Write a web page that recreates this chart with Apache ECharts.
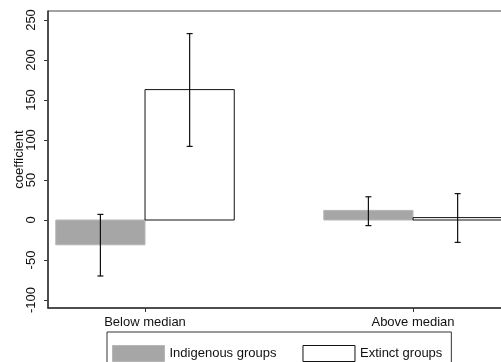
<!DOCTYPE html>
<html>
<head>
<meta charset="utf-8">
<script src="https://cdn.jsdelivr.net/npm/echarts@6/dist/echarts.min.js"></script>
<style>
html,body{margin:0;padding:0;background:#fff;}
#chart{width:501px;height:362px;}
</style>
</head>
<body>
<div id="chart"></div>
<script>
const categories = ['Below median', 'Above median'];
const seriesNames = ['Indigenous groups', 'Extinct groups'];
const indigenous = [-31, 12];
const indigenousLow = [-70, -7];
const indigenousHigh = [7, 29];
const extinct = [163, 3];
const extinctLow = [92, -28];
const extinctHigh = [233, 33];
const yTicks = [-100, -50, 0, 50, 100, 150, 200, 250];

const BAR_W = 0.333;
const FONT = 'Liberation Sans, Arial, sans-serif';

function barSeries(name, values, side, fill, stroke) {
  return {
    name: name,
    type: 'custom',
    data: values.map((v, i) => [i + 1, v]),
    renderItem: function (params, api) {
      const x = api.value(0), v = api.value(1);
      const a = side < 0 ? x - BAR_W : x;
      const b = side < 0 ? x : x + BAR_W;
      const p0 = api.coord([a, 0]);
      const p1 = api.coord([b, v]);
      return {
        type: 'rect',
        shape: { x: p0[0], y: Math.min(p0[1], p1[1]), width: p1[0] - p0[0], height: Math.abs(p1[1] - p0[1]) },
        style: { fill: fill, stroke: stroke, lineWidth: 1 }
      };
    },
    z: 2
  };
}

function errSeries(name, lows, highs, side) {
  return {
    name: name + ' CI',
    type: 'custom',
    data: lows.map((l, i) => [i + 1, l, highs[i]]),
    renderItem: function (params, api) {
      const x = api.value(0) + side * BAR_W / 2;
      const lo = api.coord([x, api.value(1)]);
      const hi = api.coord([x, api.value(2)]);
      const cap = 3;
      const st = { stroke: '#111', lineWidth: 1.2 };
      return {
        type: 'group',
        children: [
          { type: 'line', shape: { x1: lo[0], y1: lo[1], x2: hi[0], y2: hi[1] }, style: st },
          { type: 'line', shape: { x1: lo[0] - cap, y1: lo[1], x2: lo[0] + cap, y2: lo[1] }, style: st },
          { type: 'line', shape: { x1: hi[0] - cap, y1: hi[1], x2: hi[0] + cap, y2: hi[1] }, style: st }
        ]
      };
    },
    z: 3
  };
}

const chart = echarts.init(document.getElementById('chart'), null, { renderer: 'canvas' });
chart.setOption({
  animation: false,
  backgroundColor: '#fff',
  grid: { left: 48, top: 11, bottom: 54, right: -4, containLabel: false, outerBoundsMode: 'none', show: true, borderColor: '#444', borderWidth: 1, backgroundColor: 'transparent' },
  xAxis: {
    type: 'value',
    min: 0.638,
    max: 0.638 + 457 / 268,
    splitLine: { show: false },
    axisLine: { show: true, onZero: false, lineStyle: { color: '#333', width: 1.5 } },
    axisTick: { show: true, length: 4, customValues: [1, 2], lineStyle: { color: '#333' } },
    axisLabel: {
      customValues: [1, 2],
      formatter: v => categories[Math.round(v) - 1] || '',
      fontFamily: FONT, fontSize: 13, color: '#111', margin: 8
    }
  },
  yAxis: {
    type: 'value',
    min: -110,
    max: 261.25,
    name: 'coefficient',
    nameLocation: 'middle',
    nameGap: 22,
    nameMoveOverlap: false,
    nameTextStyle: { fontFamily: FONT, fontSize: 13, color: '#111' },
    splitLine: { show: false },
    axisLine: { show: true, lineStyle: { color: '#333', width: 1.5 } },
    axisTick: { show: true, length: 4, customValues: yTicks, lineStyle: { color: '#333' } },
    axisLabel: {
      customValues: yTicks,
      rotate: 90,
      fontFamily: FONT, fontSize: 13, color: '#111', margin: 10
    }
  },
  legend: {
    left: 107,
    top: 332,
    orient: 'horizontal',
    padding: [13, 9, 8, 5],
    itemGap: 26,
    itemWidth: 52,
    itemHeight: 16,
    borderColor: '#333',
    borderWidth: 1,
    textStyle: { fontFamily: FONT, fontSize: 13, color: '#111' },
    data: [
      { name: seriesNames[0], icon: 'rect', itemStyle: { color: '#a6a6a6', borderColor: '#b6b6b6', borderWidth: 1 } },
      { name: seriesNames[1], icon: 'rect', itemStyle: { color: '#fff', borderColor: '#111', borderWidth: 1 } }
    ]
  },
  series: [
    barSeries(seriesNames[0], indigenous, -1, '#a6a6a6', '#b6b6b6'),
    barSeries(seriesNames[1], extinct, 1, '#fff', '#111'),
    errSeries(seriesNames[0], indigenousLow, indigenousHigh, -1),
    errSeries(seriesNames[1], extinctLow, extinctHigh, 1)
  ]
});
</script>
</body>
</html>
